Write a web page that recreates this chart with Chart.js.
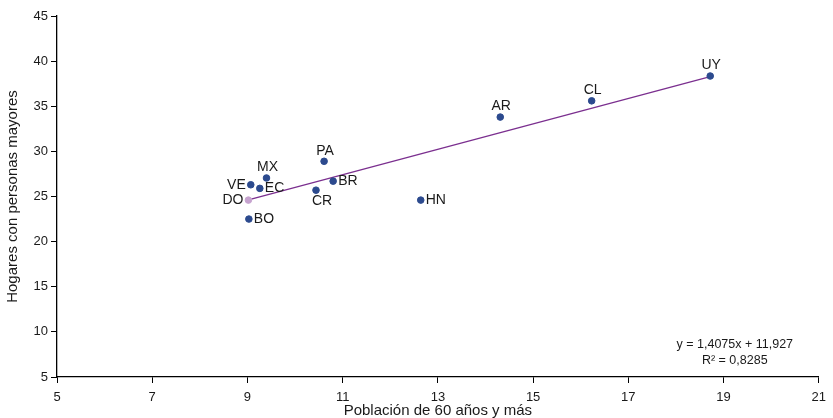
<!DOCTYPE html>
<html>
<head>
<meta charset="utf-8">
<script src="https://cdn.jsdelivr.net/npm/chart.js@4/dist/chart.umd.min.js"></script>
<style>
  html, body { margin: 0; padding: 0; background: #ffffff; }
  #wrap { width: 833px; height: 418px; position: relative; }
</style>
</head>
<body>
<div id="wrap"><canvas id="c"></canvas></div>
<script>
// Data
const countries = ['UY', 'CL', 'AR', 'PA', 'MX', 'VE', 'EC', 'BR', 'CR', 'DO', 'BO', 'HN'];
const pob60 = [18.72, 16.23, 14.31, 10.61, 9.40, 9.07, 9.26, 10.80, 10.44, 9.02, 9.03, 12.64];
const hogares = [38.35, 35.6, 33.8, 28.9, 27.05, 26.3, 25.9, 26.7, 25.7, 24.6, 22.5, 24.6];
const xTicks = [5, 7, 9, 11, 13, 15, 17, 19, 21];
const yTicks = [5, 10, 15, 20, 25, 30, 35, 40, 45];
const slope = 1.4075;
const intercept = 11.927;
const equationText = ['y = 1,4075x + 11,927', 'R² = 0,8285'];
const xTitle = 'Población de 60 años y más';
const yTitle = 'Hogares con personas mayores';

// Label placement (style only)
const labelSide = { UY: 'above', CL: 'above', AR: 'above', PA: 'above', MX: 'above',
  VE: 'left', EC: 'right', BR: 'right', CR: 'below', DO: 'left', BO: 'right', HN: 'right' };

const points = countries.map((c, i) => ({ x: pob60[i], y: hogares[i] }));
const xMin = Math.min(...pob60), xMax = Math.max(...pob60);
const trend = [{ x: xMin, y: slope * xMin + intercept }, { x: xMax, y: slope * xMax + intercept }];

const FONT = 'Arial, "Liberation Sans", Helvetica, sans-serif';
const pointColors = countries.map(c => c === 'DO' ? '#c6a3cf' : '#2c4a8e');

const labelPlugin = {
  id: 'pointLabels',
  afterDatasetsDraw(chart) {
    const ctx = chart.ctx;
    const meta = chart.getDatasetMeta(1);
    ctx.save();
    ctx.font = '14px ' + FONT;
    ctx.fillStyle = '#1a1a1a';
    meta.data.forEach((el, i) => {
      const name = countries[i];
      const side = labelSide[name];
      let x = el.x, y = el.y;
      if (side === 'above') { ctx.textAlign = 'center'; ctx.textBaseline = 'middle'; y -= 10.5; x += 1; }
      else if (side === 'below') { ctx.textAlign = 'center'; ctx.textBaseline = 'middle'; y += 11; x += 6; }
      else if (side === 'left') { ctx.textAlign = 'right'; ctx.textBaseline = 'middle'; x -= 5; }
      else { ctx.textAlign = 'left'; ctx.textBaseline = 'middle'; x += 5; }
      ctx.fillText(name, x, y);
    });
    // regression equation
    ctx.font = '12.5px ' + FONT;
    ctx.textAlign = 'center';
    ctx.textBaseline = 'middle';
    const area = chart.chartArea;
    ctx.fillText(equationText[0], area.right - 84, area.bottom - 32);
    ctx.fillText(equationText[1], area.right - 84, area.bottom - 16);
    ctx.restore();
  }
};

new Chart(document.getElementById('c'), {
  type: 'scatter',
  data: {
    datasets: [
      {
        type: 'line',
        data: trend,
        borderColor: '#7b2f8f',
        borderWidth: 1.3,
        pointRadius: 0,
        fill: false,
        order: 2
      },
      {
        data: points,
        backgroundColor: pointColors,
        borderColor: pointColors,
        pointRadius: 3.3,
        pointHoverRadius: 3.3,
        order: 1
      }
    ]
  },
  options: {
    responsive: true,
    maintainAspectRatio: false,
    animation: false,
    events: [],
    layout: { padding: { left: 0, right: 14, top: 16, bottom: 0 } },
    plugins: { legend: { display: false }, tooltip: { enabled: false } },
    scales: {
      x: {
        type: 'linear',
        min: 5, max: 21,
        afterBuildTicks: (s) => { s.ticks = xTicks.map(v => ({ value: v })); },
        afterFit: (s) => { s.height = 41; },
        grid: { display: true, drawOnChartArea: false, tickLength: 6, color: '#000', lineWidth: 1 },
        border: { display: true, color: '#000', width: 1.3 },
        ticks: { color: '#1a1a1a', font: { size: 13, family: FONT }, padding: 7, maxRotation: 0 },
        title: { display: true, text: xTitle, color: '#1a1a1a', font: { size: 15, family: FONT }, padding: { top: 0, bottom: -2 } }
      },
      y: {
        type: 'linear',
        min: 5, max: 45,
        afterBuildTicks: (s) => { s.ticks = yTicks.map(v => ({ value: v })); },
        afterFit: (s) => { s.width = 57; },
        grid: { display: true, drawOnChartArea: false, tickLength: 6, color: '#000', lineWidth: 1 },
        border: { display: true, color: '#000', width: 1.3 },
        ticks: { color: '#1a1a1a', font: { size: 13, family: FONT }, padding: 3 },
        title: { display: true, text: yTitle, color: '#1a1a1a', font: { size: 15, family: FONT }, padding: { top: 4, bottom: 0 } }
      }
    }
  },
  plugins: [labelPlugin]
});
</script>
</body>
</html>
